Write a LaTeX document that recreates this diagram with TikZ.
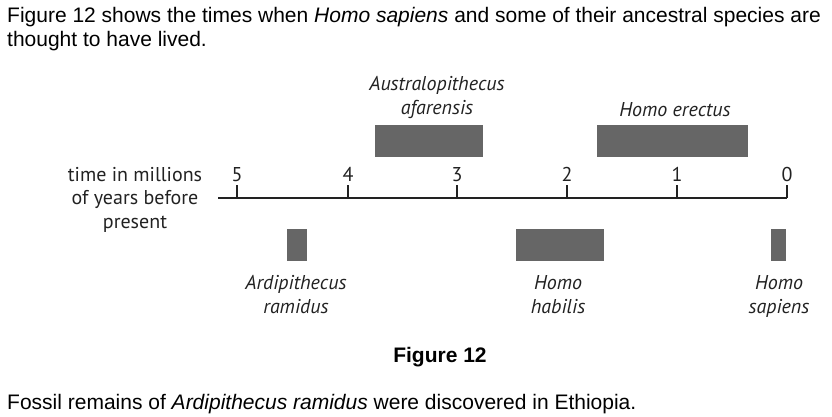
\documentclass[tikz,border=0pt]{standalone}
\usepackage{fontspec}
\setmainfont{Liberation Sans}
\newfontfamily\labfont{PT Sans}
\definecolor{barg}{HTML}{666666}
\definecolor{labg}{HTML}{222222}
\begin{document}
\begin{tikzpicture}[x=1pt,y=-1pt,
  bodytext/.style={font=\fontsize{21}{24}\selectfont,anchor=base west,inner sep=0pt},
  axlabel/.style={font=\labfont\fontsize{20}{23.5}\selectfont,text=labg,inner sep=0pt,align=center,anchor=base},
  species/.style={font=\labfont\itshape\fontsize{20}{23.5}\selectfont,text=labg,inner sep=0pt,align=center,anchor=base},
  bar/.style={fill=barg,draw=none,inner sep=0pt,minimum height=32pt},
  axline/.style={draw=labg,line width=1.1pt},
]
\useasboundingbox (0,0) rectangle (832,416);
% body text
\node[bodytext] (t1) at (7,22) {Figure 12 shows the times when \textit{Homo sapiens} and some of their ancestral species are};
\node[bodytext] (t2) at (7,46) {thought to have lived.};
\node[bodytext,anchor=base,font=\fontsize{21}{24}\selectfont\bfseries] (fig) at (440,362) {Figure 12};
\node[bodytext] (t3) at (7,409) {Fossil remains of \textit{Ardipithecus ramidus} were discovered in Ethiopia.};
% axis
\coordinate (a0) at (218,198);
\coordinate (a1) at (787,198);
\draw[axline] (a0) -- (a1);
\foreach \v/\x in {5/237,4/348,3/457,2/567,1/677,0/787}{
  \coordinate (tk\v) at (\x,198);
  \coordinate (tt\v) at (\x,185);
  \draw[axline] (tk\v) -- (tt\v);
  \node[axlabel] (n\v) at (\x,181) {\v};
}
\node[axlabel] (axt) at (135,228) {time in millions\\of years before\\present};
% bars
\node[bar,minimum width=108pt] (afa) at (429,141) {};
\node[bar,minimum width=151pt] (ere) at (672.5,141) {};
\node[bar,minimum width=20pt] (ard) at (296.5,245) {};
\node[bar,minimum width=88pt] (hab) at (560,245) {};
\node[bar,minimum width=15pt] (sap) at (778.5,245) {};
% species labels
\node[species] (lafa) at (437,114) {Australopithecus\\afarensis};
\node[species] (lere) at (675,116) {Homo erectus};
\node[species] (lard) at (296,313) {Ardipithecus\\ramidus};
\node[species] (lhab) at (558,313) {Homo\\habilis};
\node[species] (lsap) at (779,313) {Homo\\sapiens};
\end{tikzpicture}
\end{document}
